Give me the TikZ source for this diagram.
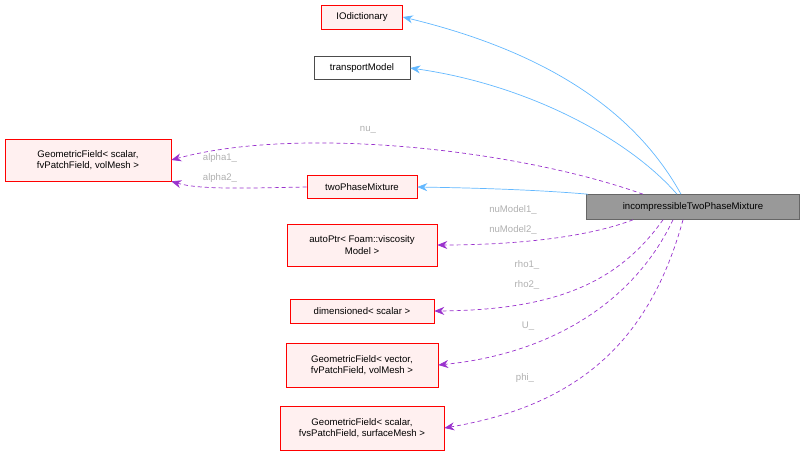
\documentclass[tikz,border=0pt]{standalone}
\usepackage{fontspec}
\setmainfont{Liberation Sans}
\usetikzlibrary{arrows.meta}
\definecolor{rb}{HTML}{FF0000}\definecolor{rf}{HTML}{FFF0F0}
\definecolor{bl}{HTML}{63B8FF}\definecolor{pu}{HTML}{9A32CD}
\definecolor{lg}{HTML}{B0B0B0}
\begin{document}
\begin{tikzpicture}[x=1pt,y=-1pt,
 box/.style={draw=rb,fill=rf,align=center,font=\fontsize{9.6}{11.5}\selectfont,inner sep=0pt,line width=0.6pt},
 inh/.style={draw=bl,line width=0.7pt,-{Stealth[length=10pt,width=8pt]}},
 use/.style={draw=pu,line width=0.7pt,dash pattern=on 4pt off 3pt,-{Stealth[length=10pt,width=8pt]}},
 lab/.style={text=lg,font=\fontsize{9.6}{11}\selectfont}]
\useasboundingbox (0,0) rectangle (805,459);
\node[box,minimum width=81,minimum height=24] (io) at (362,17) {IOdictionary};
\node[box,draw=black!70,fill=white,minimum width=96,minimum height=23] (tm) at (362,68) {transportModel};
\node[box,minimum width=166,minimum height=42] (gf) at (88,160) {GeometricField< scalar,\\fvPatchField, volMesh >};
\node[box,minimum width=110,minimum height=23] (tp) at (362,187) {twoPhaseMixture};
\node[box,draw=black!60,fill=black!40,minimum width=213,minimum height=25] (in) at (693,207) {incompressibleTwoPhaseMixture};
\node[box,minimum width=150,minimum height=42] (ap) at (362,245) {autoPtr< Foam::viscosity\\Model >};
\node[box,minimum width=144,minimum height=24] (ds) at (362,311) {dimensioned< scalar >};
\node[box,minimum width=152,minimum height=44] (gv) at (362,365) {GeometricField< vector,\\fvPatchField, volMesh >};
\node[box,minimum width=164,minimum height=44] (gs) at (362,428) {GeometricField< scalar,\\fvsPatchField, surfaceMesh >};
\draw[inh] (in.north) ++(-12,0) .. controls (640,120) and (560,55) .. (io.east);
\draw[inh] (in.north) ++(-16,0) .. controls (630,140) and (530,85) .. (tm.east);
\draw[inh] (in.north) ++(-105,0) .. controls (540,190) and (480,188) .. (tp.east);
\draw[use] (in.north) ++(-50,0) .. controls (520,150) and (300,125) .. (gf.east);
\draw[use] (tp.west) .. controls (250,188) and (200,190) .. (gf.south east);
\draw[use] (in.south) ++(-60,0) .. controls (580,240) and (500,245) .. (ap.east);
\draw[use] (in.south) ++(-30,0) .. controls (620,280) and (560,310) .. (ds.east);
\draw[use] (in.south) ++(-20,0) .. controls (630,310) and (540,355) .. (gv.east);
\draw[use] (in.south) ++(-10,0) .. controls (650,340) and (580,405) .. (gs.east);
\node[lab] (l1) at (368,130) {nu\_};
\node[lab] (l2) at (220,158) {alpha1\_};
\node[lab] (l3) at (220,178) {alpha2\_};
\node[lab] (l4) at (513,210) {nuModel1\_};
\node[lab] (l5) at (513,230) {nuModel2\_};
\node[lab] (l6) at (527,265) {rho1\_};
\node[lab] (l7) at (527,285) {rho2\_};
\node[lab] (l8) at (528,326) {U\_};
\node[lab] (l9) at (525,378) {phi\_};
\end{tikzpicture}
\end{document}
